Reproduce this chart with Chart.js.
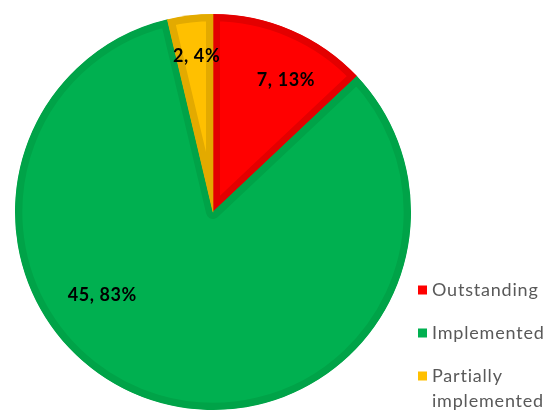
<!DOCTYPE html>
<html>
<head>
<meta charset="utf-8">
<script src="https://cdn.jsdelivr.net/npm/chart.js@4/dist/chart.umd.min.js"></script>
<style>
  html, body { margin: 0; padding: 0; background: #fff; }
  #wrap { width: 558px; height: 414px; }
</style>
</head>
<body>
<div id="wrap"><canvas id="pie" width="558" height="414"></canvas></div>
<script>
// --- data ---
const categories = ['Outstanding', 'Implemented', 'Partially implemented'];
const counts = [7, 45, 2];
const percentLabels = ['13%', '83%', '4%'];
const legendLines = [['Outstanding'], ['Implemented'], ['Partially', 'implemented']];

const fills = ['#ff0000', '#00b050', '#ffc000'];
const borders = ['#e30000', '#00a348', '#e3aa00'];

// where each data label sits: angle from 12 o'clock (deg, clockwise) and fraction of radius
const labelSpots = [[29, 0.76], [233, 0.70], [-6, 0.79]];

const sliceLabels = {
    id: 'sliceLabels',
    afterDatasetsDraw(chart) {
        const ctx = chart.ctx;
        const arcs = chart.getDatasetMeta(0).data;
        ctx.save();
        ctx.font = 'bold 18px Lato';
        ctx.letterSpacing = '0.6px';
        ctx.fillStyle = '#000';
        ctx.textAlign = 'center';
        ctx.textBaseline = 'middle';
        arcs.forEach((arc, i) => {
            const a = labelSpots[i][0] * Math.PI / 180;
            const r = arc.outerRadius * labelSpots[i][1];
            const x = arc.x + Math.sin(a) * r;
            const y = arc.y - Math.cos(a) * r;
            ctx.fillText(`${counts[i]}, ${percentLabels[i]}`, x, y);
        });
        ctx.restore();
    }
};

const sideLegend = {
    id: 'sideLegend',
    afterDraw(chart) {
        const ctx = chart.ctx;
        const x0 = 418, rows = [290, 333, 376];
        ctx.save();
        ctx.font = '18px Lato';
        ctx.letterSpacing = '0.8px';
        ctx.textBaseline = 'middle';
        categories.forEach((c, i) => {
            ctx.fillStyle = fills[i];
            ctx.fillRect(x0, rows[i] - 4.5, 9, 9);
            ctx.fillStyle = '#595959';
            legendLines[i].forEach((line, j) => {
                ctx.fillText(line, x0 + 14, rows[i] + j * 25);
            });
        });
        ctx.restore();
    }
};

new Chart(document.getElementById('pie'), {
    type: 'pie',
    data: {
        labels: categories,
        datasets: [{
            data: counts,
            backgroundColor: fills,
            borderColor: borders,
            borderWidth: 7,
            borderAlign: 'inner'
        }]
    },
    options: {
        responsive: false,
        animation: false,
        layout: { padding: { left: 15, right: 147, top: 14, bottom: 4 } },
        plugins: { legend: { display: false }, tooltip: { enabled: false } }
    },
    plugins: [sliceLabels, sideLegend]
});
</script>
</body>
</html>
